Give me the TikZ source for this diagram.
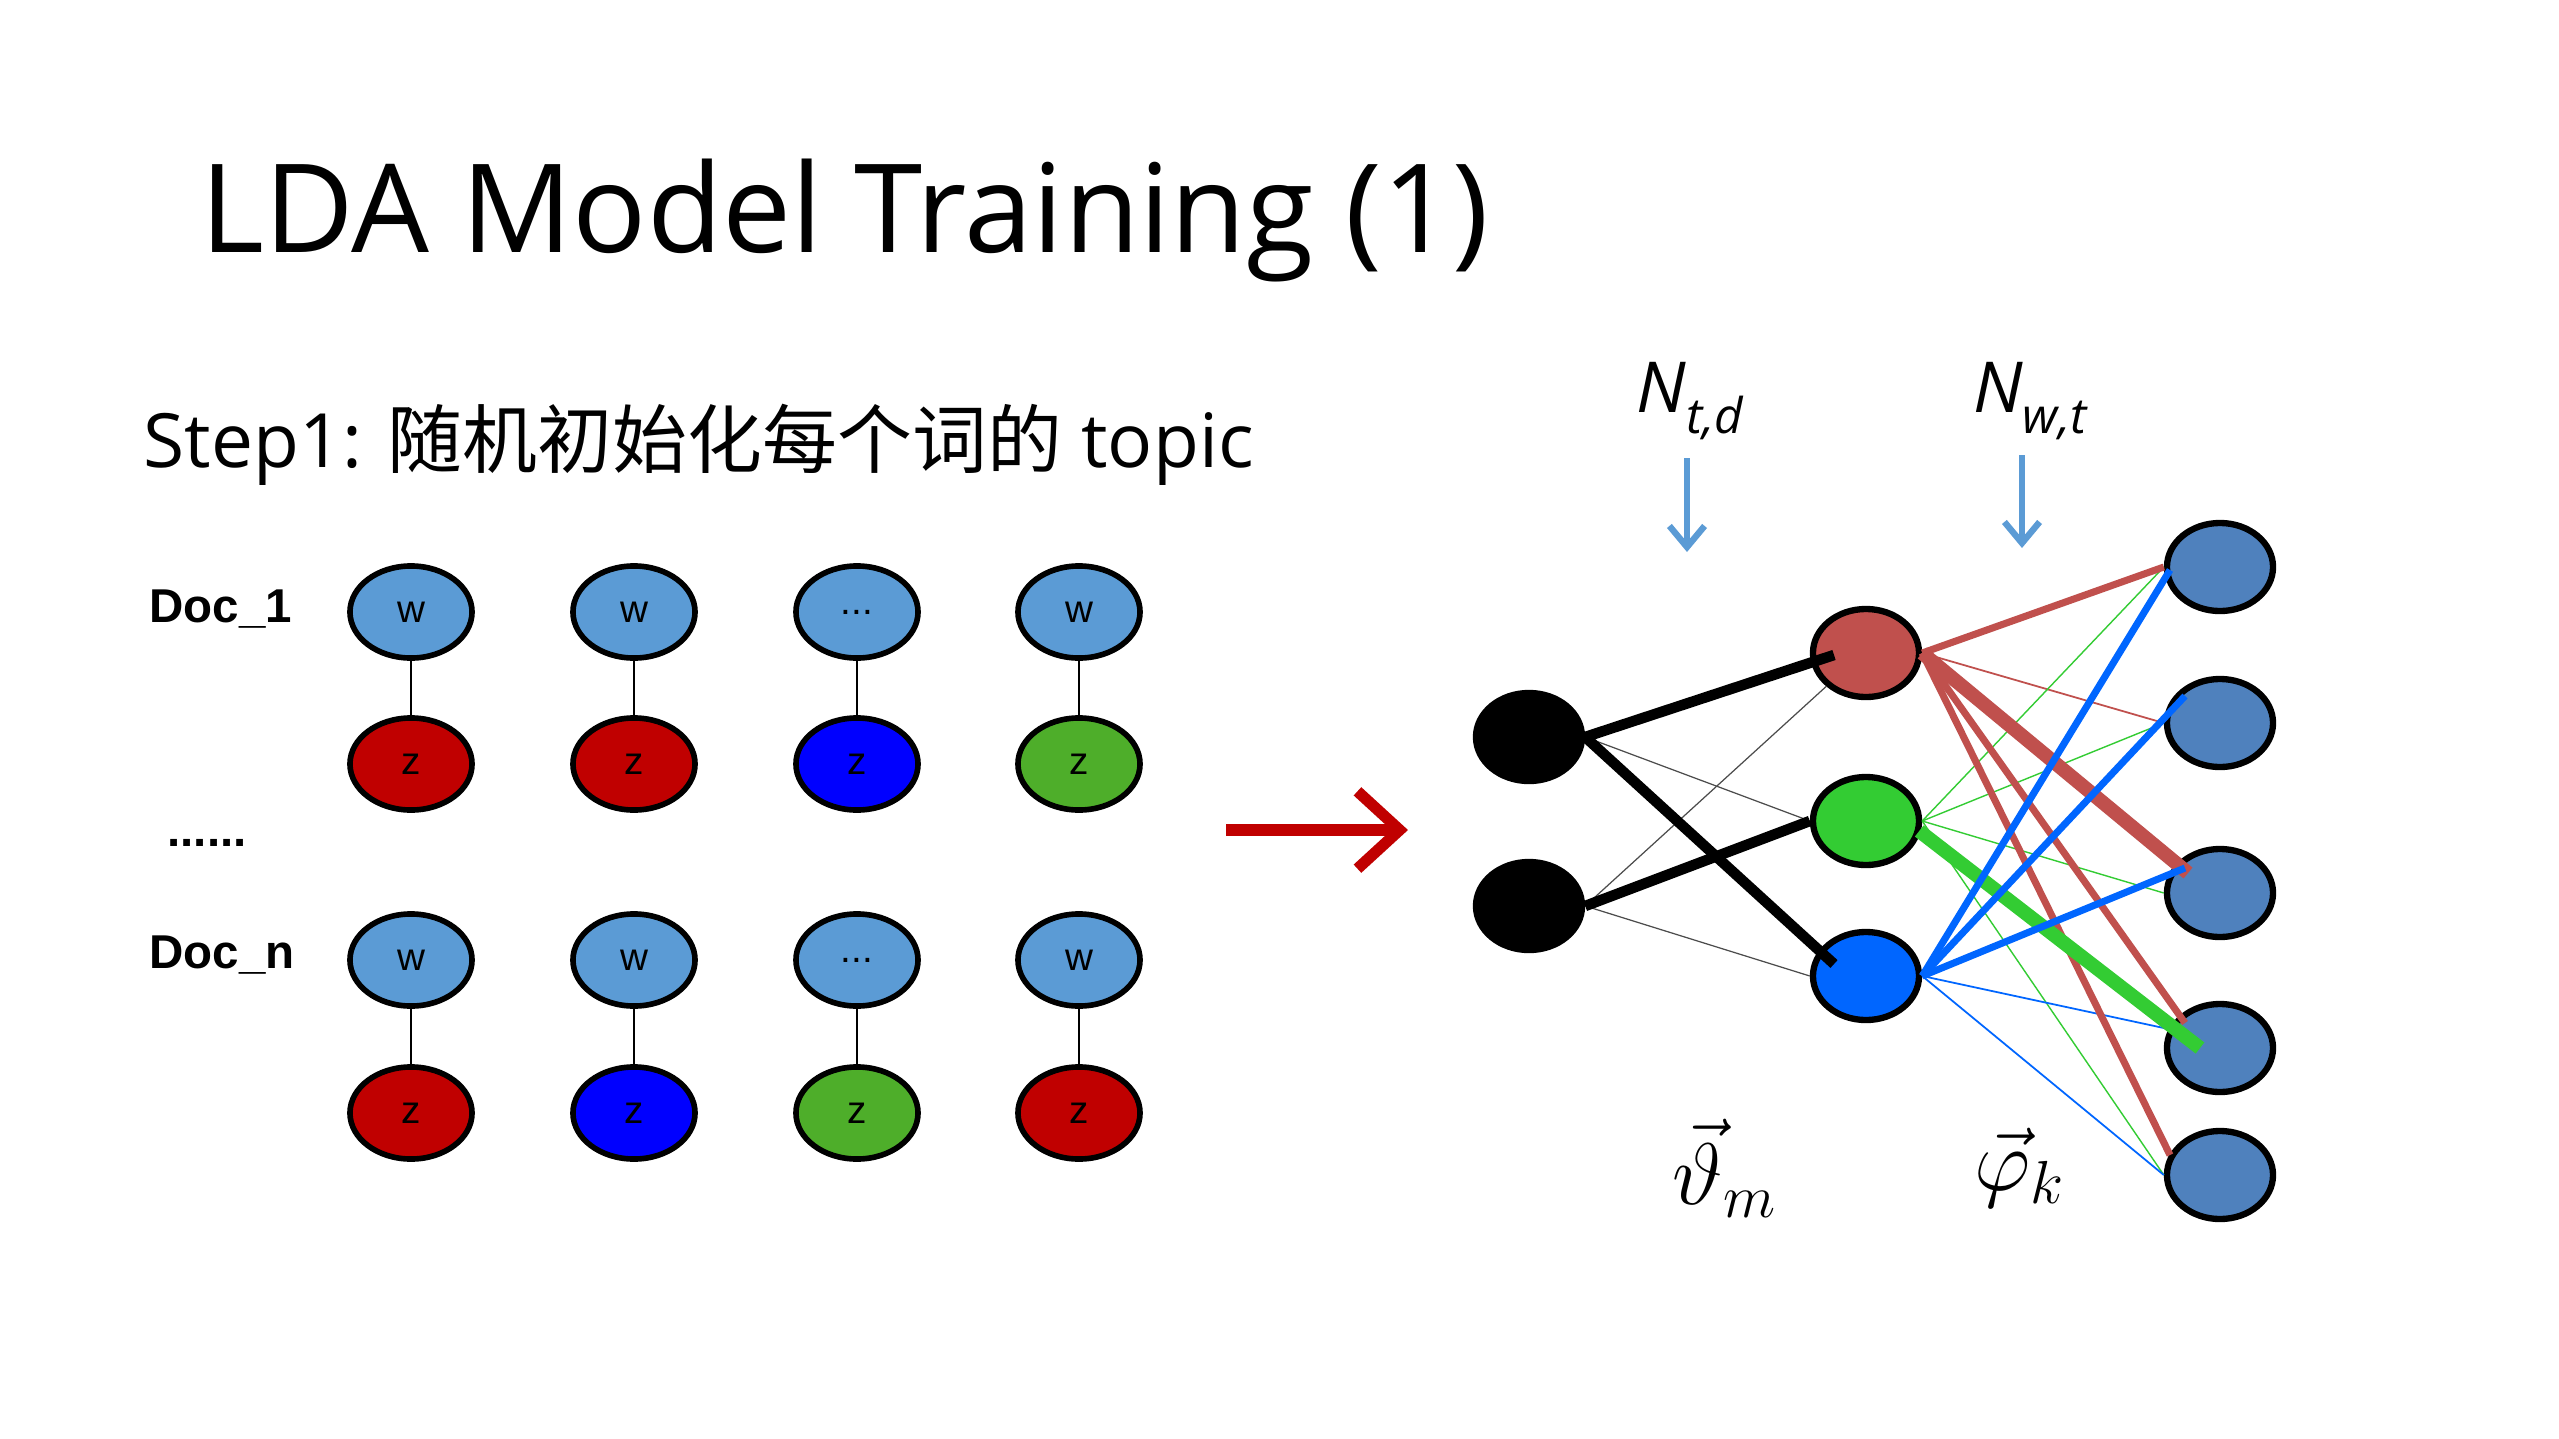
\documentclass[tikz,border=0pt]{standalone}
\usepackage{fontspec}
\setmainfont{Open Sans}
\newfontfamily\cjk{Noto Sans CJK SC}
\newfontfamily\arialf{Liberation Sans}
\usetikzlibrary{calc,arrows.meta,shapes.geometric}
\definecolor{wblue}{HTML}{5B9BD5}
\definecolor{zred}{HTML}{C00000}
\definecolor{zblue}{HTML}{0000FF}
\definecolor{zgreen}{HTML}{4EAE2A}
\definecolor{ered}{HTML}{C0504D}
\definecolor{eblue}{HTML}{0066FF}
\definecolor{egreen}{HTML}{33CC33}
\definecolor{rnode}{HTML}{4F81BD}
\newcommand\myell{...}
\begin{document}
\begin{tikzpicture}[x=0.01cm,y=-0.01cm,
  wz/.style={ellipse,draw=black,line width=1.6pt,minimum width=1.22cm,minimum height=0.92cm,inner sep=0pt,font=\arialf\fontsize{11}{12}\selectfont},
  net/.style={ellipse,draw=black,line width=1.8pt,minimum width=1.06cm,minimum height=0.88cm,inner sep=0pt},
  doc/.style={font=\arialf\bfseries\fontsize{13.5}{15}\selectfont,anchor=west},
  thk/.style={line width=3pt,black},
  thn/.style={line width=0.35pt,black!70},
  nav/.style={draw=wblue,line width=1.8pt,-{Straight Barb[length=6pt,width=10pt,line width=1.8pt]}}
]
\useasboundingbox (0,0) rectangle (2559,1439);
\fill[white] (0,0) rectangle (2559,1439);
% title
\node[anchor=base west,inner sep=0pt,font=\fontsize{35}{40}\selectfont] (title) at (200,252) {LDA Model Training (1)};
\node[anchor=base west,inner sep=0pt,font=\fontsize{21.3}{26}\selectfont] (step) at (143,467) {Step1: {\cjk 随机初始化每个词的} topic};
% docs
\node[doc] (d1) at (137,609) {Doc\_1};
\node[doc] (dn) at (137,955) {Doc\_n};
\node[anchor=center,font=\arialf\bfseries\fontsize{13.5}{15}\selectfont] (dots) at (207,843) {......};
% columns
\foreach \x/\i/\wa/\za/\wb/\zb in {411/1/w/zred/w/zred,634/2/w/zred/w/zblue,857/3/\myell/zblue/\myell/zgreen,1079/4/w/zgreen/w/zred}{
  \node[wz,fill=wblue] (wa\i) at (\x,612) {\wa};
  \node[wz,fill=\za] (za\i) at (\x,764) {z};
  \node[wz,fill=wblue] (wb\i) at (\x,960) {\wb};
  \node[wz,fill=\zb] (zb\i) at (\x,1113) {z};
  \draw[line width=0.6pt] (wa\i) -- (za\i);
  \draw[line width=0.6pt] (wb\i) -- (zb\i);
}
% big arrow
\coordinate (as) at (1226,830);
\coordinate (ae) at (1408,830);
\draw[zred,line width=3.2pt,-{Straight Barb[length=12pt,width=22pt,line width=3.2pt]}] (as) -- (ae);
% network nodes
\node[net,fill=black] (k1) at (1529,737) {};
\node[net,fill=black] (k2) at (1529,906) {};
\node[net,fill=ered] (tr) at (1866,653) {};
\node[net,fill=egreen] (tg) at (1866,821) {};
\node[net,fill=eblue] (tb) at (1866,976) {};
\foreach \i/\y in {1/567,2/723,3/893,4/1048,5/1175}
  \node[net,fill=rnode] (r\i) at (2220,\y) {};
% left edges thin
\draw[thn] (k1.east) -- (tg.west);
\draw[thn] (k2.east) -- (tr.south west);
\draw[thn] (k2.east) -- (tb.west);
% right edges thin
\draw[ered,line width=0.5pt] (tr.east) -- (r2.west);
\foreach \i in {1,2,3,5} \draw[egreen,line width=0.4pt] (tg.east) -- (r\i.west);
\draw[eblue,line width=0.5pt] (tb.east) -- ($(r4.center)+(-33,-15)$);
\draw[eblue,line width=0.5pt] (tb.east) -- (r5.west);
% right edges thick
\draw[ered,line width=2pt] (tr.east) -- (r1.west);
\draw[ered,line width=2pt] (tr.east) -- ($(r4.center)+(-35,-25)$);
\draw[ered,line width=2pt] (tr.east) -- ($(r5.center)+(-50,-20)$);
\draw[ered,line width=4pt] (tr.east) -- ($(r3.center)+(-32,-20)$);
\draw[egreen,line width=4pt] ($(tg.east)+(-3,10)$) -- ($(r4.center)+(-20,0)$);
\draw[eblue,line width=2pt] (tb.east) -- ($(r1.center)+(-50,3)$);
\draw[eblue,line width=2pt] (tb.east) -- ($(r2.center)+(-35,-27)$);
\draw[eblue,line width=2pt] (tb.east) -- ($(r3.center)+(-35,-25)$);
% thick black edges on top
\draw[thk] (k1.east) -- ($(tr.center)+(-32,2)$);
\draw[thk] (k1.east) -- ($(tb.center)+(-32,-12)$);
\draw[thk] (k2.east) -- (tg.west);
% labels
\node[anchor=base,font=\fontsize{20}{22}\selectfont\itshape] (ntd) at (1690,412) {N\raisebox{-0.3em}{\fontsize{14}{16}\selectfont t,d}};
\node[anchor=base,font=\fontsize{20}{22}\selectfont\itshape] (nwt) at (2030,412) {N\raisebox{-0.3em}{\fontsize{14}{16}\selectfont w,t}};
\coordinate (a1s) at (1687,458);
\coordinate (a1e) at (1687,552);
\coordinate (a2s) at (2022,455);
\coordinate (a2e) at (2022,548);
\draw[nav] (a1s) -- (a1e);
\draw[nav] (a2s) -- (a2e);
\node[inner sep=0pt,font=\fontsize{24}{26}\selectfont] (th) at (1725,1168) {$\vec{\vartheta}_m$};
\node[inner sep=0pt,font=\fontsize{24}{26}\selectfont] (ph) at (2020,1168) {$\vec{\varphi}_k$};
\end{tikzpicture}
\end{document}
